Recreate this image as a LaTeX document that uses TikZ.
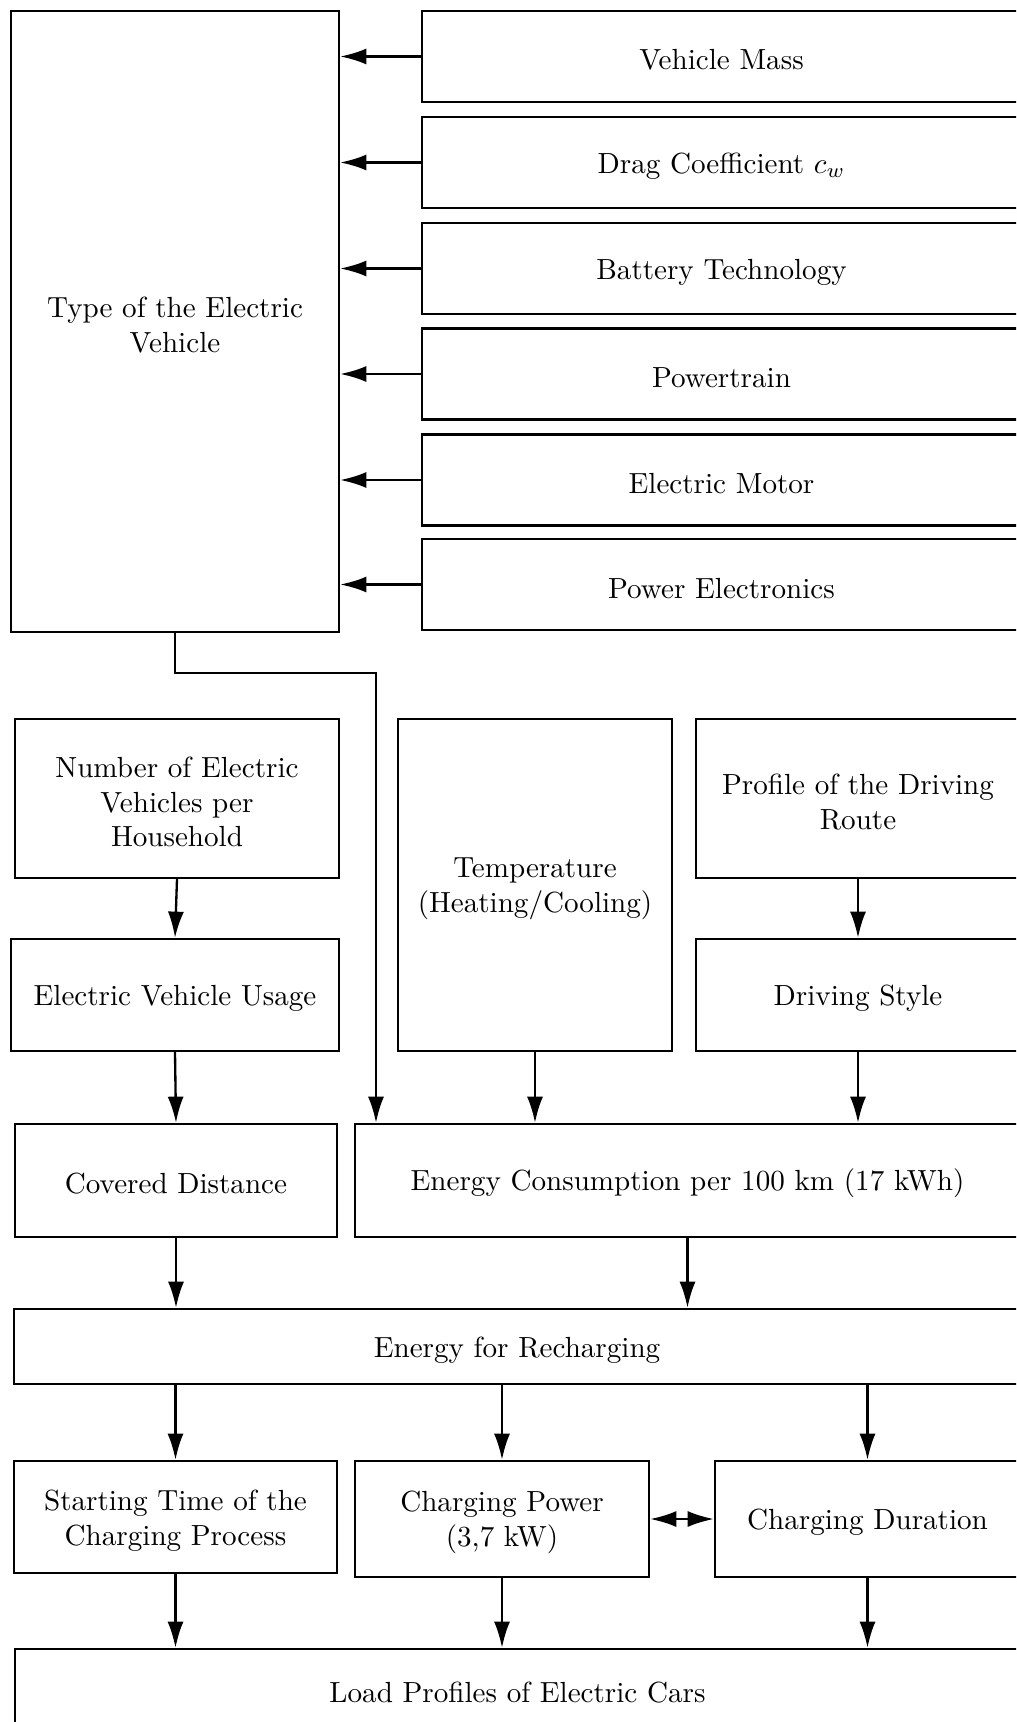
\documentclass[tikz,border=0pt]{standalone}
\usepackage{amsmath}
\usepackage{tikz}
\usetikzlibrary{shapes,arrows.meta,positioning}

\newcommand{\pxu}{0.3436pt}

\begin{document}
\begin{tikzpicture}[x=\pxu, y=-\pxu,
  block/.style={draw, rectangle, thick, align=center, inner sep=2pt, text height=9.4pt},
  twoline/.style={text height=21.4pt},
  threeline/.style={text height=33.4pt},
  flow/.style={-{Latex[length=9pt, width=5.5pt]}, thick},
  both/.style={{Latex[length=9pt, width=5.5pt]}-{Latex[length=9pt, width=5.5pt]}, thick}]
  \useasboundingbox (0,0) rectangle (1016,1722);
  \clip (0,0) rectangle (1016,1722);

  % Nodes
  \node (evtype) [block, twoline, minimum width=328*\pxu, minimum height=621*\pxu] at (175,321.5) {Type of the Electric\\Vehicle};
  \node (mass) [block, minimum width=599*\pxu, minimum height=91*\pxu] at (721.5,56.5) {Vehicle Mass};
  \node (drag) [block, minimum width=599*\pxu, minimum height=91*\pxu] at (721.5,162.5) {Drag Coefficient $c_w$};
  \node (battery) [block, minimum width=599*\pxu, minimum height=91*\pxu] at (721.5,268.5) {Battery Technology};
  \node (powertrain) [block, minimum width=599*\pxu, minimum height=91*\pxu] at (721.5,374) {Powertrain};
  \node (motor) [block, minimum width=599*\pxu, minimum height=91*\pxu] at (721.5,480) {Electric Motor};
  \node (electronics) [block, minimum width=599*\pxu, minimum height=91*\pxu] at (721.5,584.5) {Power Electronics};

  \node (number) [block, threeline, minimum width=324*\pxu, minimum height=159*\pxu] at (177,798.5) {Number of Electric\\Vehicles per\\Household};
  \node (temp) [block, twoline, minimum width=274*\pxu, minimum height=332*\pxu] at (535,885) {Temperature\\(Heating/Cooling)};
  \node (profile) [block, twoline, minimum width=324*\pxu, minimum height=159*\pxu] at (858,798.5) {Profile of the Driving\\Route};
  \node (usage) [block, minimum width=328*\pxu, minimum height=112*\pxu] at (175,995) {Electric Vehicle Usage};
  \node (style) [block, minimum width=324*\pxu, minimum height=112*\pxu] at (858,995) {Driving Style};
  \node (distance) [block, minimum width=322*\pxu, minimum height=113*\pxu] at (176,1180.5) {Covered Distance};
  \node (consumption) [block, minimum width=665*\pxu, minimum height=113*\pxu] at (687.5,1180.5) {Energy Consumption per 100 km (17 kWh)};
  \node (recharge) [block, minimum width=1006*\pxu, minimum height=75*\pxu] at (517,1346.5) {Energy for Recharging};
  \node (start) [block, twoline, minimum width=323*\pxu, minimum height=112*\pxu] at (175.5,1517) {Starting Time of the\\Charging Process};
  \node (power) [block, twoline, minimum width=294*\pxu, minimum height=116*\pxu] at (502,1519) {Charging Power\\(3,7 kW)};
  \node (duration) [block, minimum width=305*\pxu, minimum height=116*\pxu] at (867.5,1519) {Charging Duration};
  \node (load) [block, minimum width=1005*\pxu, minimum height=81*\pxu] at (517.5,1689.5) {Load Profiles of Electric Cars};
  \coordinate (bend) at (376,673);

  % Edges
  \draw[flow] (mass.west) -- (mass.west -| evtype.east);
  \draw[flow] (drag.west) -- (drag.west -| evtype.east);
  \draw[flow] (battery.west) -- (battery.west -| evtype.east);
  \draw[flow] (powertrain.west) -- (powertrain.west -| evtype.east);
  \draw[flow] (motor.west) -- (motor.west -| evtype.east);
  \draw[flow] (electronics.west) -- (electronics.west -| evtype.east);
  \draw[flow] (evtype.south) |- (bend) -- (bend |- consumption.north);
  \draw[flow] (number.south) -- (usage.north);
  \draw[flow] (usage.south) -- (distance.north);
  \draw[flow] (profile.south) -- (style.north);
  \draw[flow] (temp.south) -- (temp.south |- consumption.north);
  \draw[flow] (style.south) -- (style.south |- consumption.north);
  \draw[flow] (distance.south) -- (distance.south |- recharge.north);
  \draw[flow] (consumption.south) -- (consumption.south |- recharge.north);
  \draw[flow] (start.north |- recharge.south) -- (start.north);
  \draw[flow] (power.north |- recharge.south) -- (power.north);
  \draw[flow] (duration.north |- recharge.south) -- (duration.north);
  \draw[flow] (start.south) -- (start.south |- load.north);
  \draw[flow] (power.south) -- (power.south |- load.north);
  \draw[flow] (duration.south) -- (duration.south |- load.north);
  \draw[both] (power.east) -- (duration.west);
\end{tikzpicture}
\end{document}
